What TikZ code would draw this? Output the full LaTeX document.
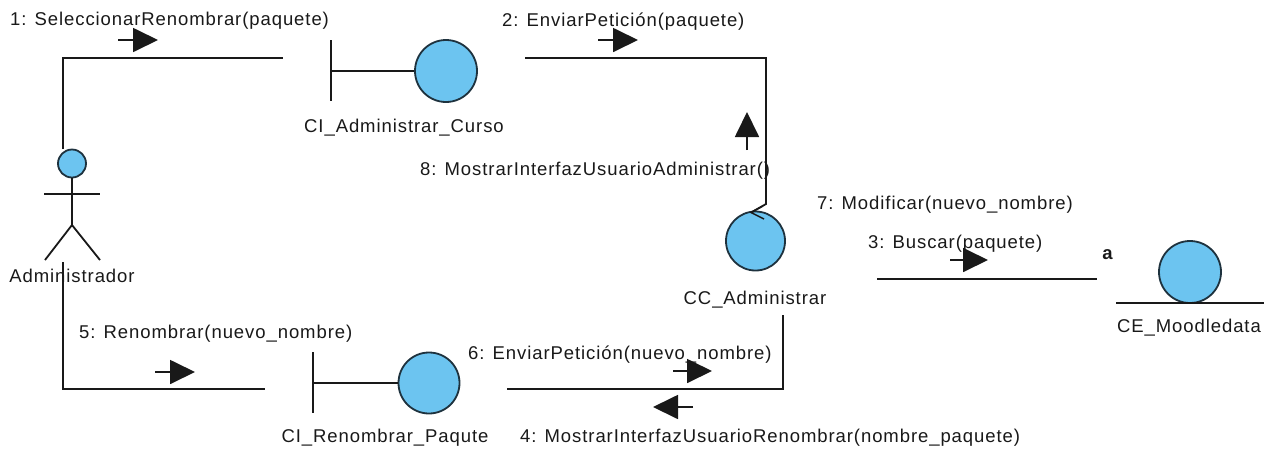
\documentclass[tikz,border=0pt]{standalone}
\usepackage{fontspec}
\setmainfont{Liberation Sans}[LetterSpace=5]
\usetikzlibrary{arrows.meta,calc}
\definecolor{ballblue}{RGB}{108,196,240}
\definecolor{ballline}{RGB}{30,50,62}
\definecolor{ink}{RGB}{25,25,25}
\tikzset{
  conn/.style={draw=ink, line width=1.8pt},
  msg/.style={draw=ink, line width=1.8pt, -{Triangle[length=25pt,width=24pt]}},
  obj/.style={circle, fill=ballblue, draw=ballline, line width=1.8pt, inner sep=0pt},
  txtbase/.style={inner sep=0pt, text=ink, font=\fontsize{18.5}{22}\selectfont},
  msglbl/.style={txtbase, anchor=base west},
  objlbl/.style={txtbase, anchor=base},
}
\begin{document}
\begin{tikzpicture}[x=1pt, y=-1pt]
\useasboundingbox (0,0) rectangle (1275,456);
\fill[white] (0,0) rectangle (1275,456);

% ---- actor ----
\node[obj, minimum size=28pt] (adminhead) at (72,163.5) {};
\draw[conn] (adminhead.south) -- (72,225) coordinate (hip);
\draw[conn] (44,194) -- (100,194);
\draw[conn] (hip) -- (45,260);
\draw[conn] (hip) -- (100,260);
\node[objlbl] (admin) at (72,282) {Administrador};

% ---- boundary CI_Administrar_Curso ----
\node[obj, minimum size=62pt] (curso) at (446,71) {};
\coordinate (cursobar) at (331,71);
\draw[conn] (331,40) -- (331,101);
\draw[conn] (cursobar) -- (curso.west);
\node[objlbl] (cursolbl) at (404,132) {CI\_Administrar\_Curso};

% ---- boundary CI_Renombrar_Paqute ----
\node[obj, minimum size=61pt] (paqute) at (429,383) {};
\coordinate (paqutebar) at (313,383);
\draw[conn] (313,352) -- (313,413);
\draw[conn] (paqutebar) -- (paqute.west);
\node[objlbl] (paqutelbl) at (385,442) {CI\_Renombrar\_Paqute};

% ---- control CC_Administrar ----
\node[obj, minimum size=59pt] (ctrl) at (755.5,241) {};
\draw[conn, line width=1.4pt] (763,206) -- (751,212.5) -- (764,219);
\coordinate (ctrltip) at (751,212.5);
\node[objlbl] (ctrllbl) at (755,304) {CC\_Administrar};

% ---- entity CE_Moodledata ----
\node[obj, minimum size=62pt] (moodle) at (1190,272) {};
\draw[conn] (1116,303) -- (1264,303);
\node[objlbl] (moodlelbl) at (1189,332) {CE\_Moodledata};

% ---- links ----
\coordinate (l1a) at (63,149);
\coordinate (l1b) at (283,58);
\draw[conn] (l1a) |- (l1b);

\coordinate (l2a) at (525,58);
\coordinate (l2b) at (766,204);
\draw[conn] (l2a) -| (l2b) -- (ctrltip);

\coordinate (l3a) at (63,262);
\coordinate (l3b) at (265,389);
\draw[conn] (l3a) |- (l3b);

\coordinate (l4a) at (783,315);
\coordinate (l4b) at (507,389);
\draw[conn] (l4a) |- (l4b);

\coordinate (l5a) at (877,279);
\coordinate (l5b) at (1097,279);
\draw[conn] (l5a) -- (l5b);

% ---- messages ----
\node[msglbl] (m1) at (10,25) {1: SeleccionarRenombrar(paquete)};
\draw[msg] (118,40) -- (158,40);

\node[msglbl] (m2) at (502,26) {2: EnviarPetición(paquete)};
\draw[msg] (598,40) -- (638,40);

\node[msglbl] (m8) at (420,175) {8: MostrarInterfazUsuarioAdministrar()};
\draw[msg] (747,150) -- (747,112);

\node[msglbl] (m7) at (817,209) {7: Modificar(nuevo\_nombre)};
\node[msglbl] (m3) at (868,248) {3: Buscar(paquete)};
\draw[msg] (950,260) -- (988,260);
\node[objlbl] (role) at (1108,259) {\textbf{a}};

\node[msglbl] (m5) at (79,338) {5: Renombrar(nuevo\_nombre)};
\draw[msg] (155,372) -- (195,372);

\node[msglbl] (m6) at (468,359) {6: EnviarPetición(nuevo\_nombre)};
\draw[msg] (673,371) -- (712,371);

\draw[msg] (693,407) -- (653,407);
\node[msglbl] (m4) at (520,442) {4: MostrarInterfazUsuarioRenombrar(nombre\_paquete)};
\end{tikzpicture}
\end{document}
